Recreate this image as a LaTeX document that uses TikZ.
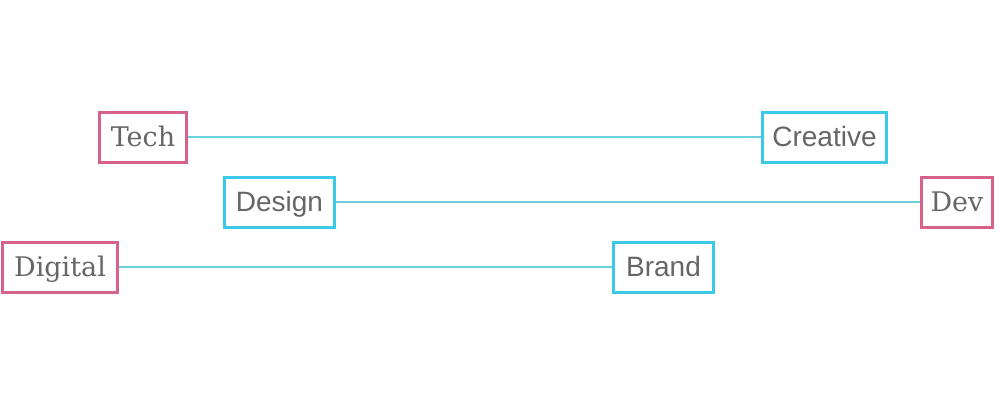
\documentclass[tikz,border=0pt]{standalone}
\usepackage{fontspec}
\setmainfont{Liberation Sans}
\newfontfamily\slabfont{DejaVu Serif}
\definecolor{pinkc}{HTML}{D6628C}
\definecolor{cyanc}{HTML}{3CC9E8}
\definecolor{linec}{HTML}{6CCFDC}
\definecolor{textc}{HTML}{666666}
\tikzset{
  basebox/.style={line width=3pt, fill=white, minimum height=50pt, inner sep=0pt, text=textc, text height=22pt, text depth=3pt},
  pinkbox/.style={basebox, draw=pinkc, font=\slabfont\fontsize{27}{31}\selectfont},
  cyanbox/.style={basebox, draw=cyanc, font=\fontsize{28}{32}\selectfont},
  conn/.style={draw=linec, line width=2.8pt}
}
\begin{document}
\begin{tikzpicture}[x=1pt,y=-1pt]
\useasboundingbox[fill=white] (0,0) rectangle (1000,400);
\node[pinkbox, minimum width=87pt] (tech) at (143,137) {Tech};
\node[cyanbox, minimum width=124pt] (creative) at (824.5,137) {Creative};
\node[cyanbox, minimum width=110pt] (design) at (279.5,202) {Design};
\node[pinkbox, minimum width=71pt] (dev) at (957,202) {Dev};
\node[pinkbox, minimum width=115pt] (digital) at (60,267) {Digital};
\node[cyanbox, minimum width=100pt] (brand) at (663.5,267) {Brand};
\draw[conn] (tech.east) -- (creative.west);
\draw[conn] (design.east) -- (dev.west);
\draw[conn] (digital.east) -- (brand.west);
\end{tikzpicture}
\end{document}
